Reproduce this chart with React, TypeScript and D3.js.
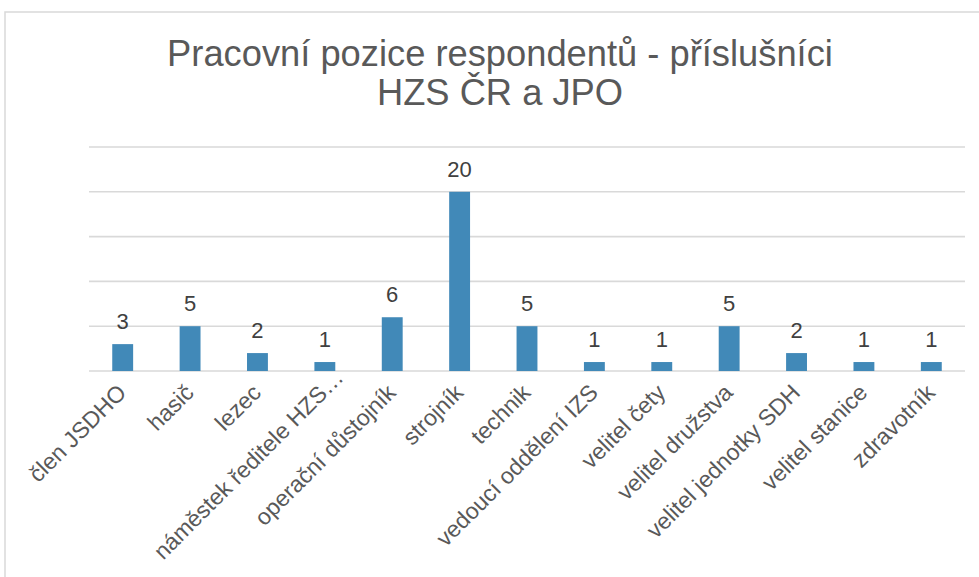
import React, { useEffect, useRef } from 'react';
import * as d3 from 'd3';

// data
const categories = [
  'člen JSDHO',
  'hasič',
  'lezec',
  'náměstek ředitele HZS…',
  'operační důstojník',
  'strojník',
  'technik',
  'vedoucí oddělení IZS',
  'velitel čety',
  'velitel družstva',
  'velitel jednotky SDH',
  'velitel stanice',
  'zdravotník',
];
const values = [3, 5, 2, 1, 6, 20, 5, 1, 1, 5, 2, 1, 1];
const gridTicks = [0, 5, 10, 15, 20, 25];
const titleLines = ['Pracovní pozice respondentů - příslušníci', 'HZS ČR a JPO'];

const width = 979;
const height = 577;
const font = 'Liberation Sans, Arial, sans-serif';

export default function App() {
  const ref = useRef<SVGSVGElement>(null);

  useEffect(() => {
    const svg = d3.select(ref.current);
    svg.selectAll('*').remove();

    const margin = { top: 147, bottom: 206, left: 89, right: 14 };

    // chart area border (runs off the right and bottom edges)
    svg.append('rect')
      .attr('x', 5).attr('y', 12)
      .attr('width', 1000).attr('height', 600)
      .attr('fill', 'white')
      .attr('stroke', '#d9d9d9')
      .attr('stroke-width', 1.5);

    // title
    svg.append('g')
      .selectAll('text')
      .data(titleLines)
      .join('text')
      .attr('x', 500)
      .attr('y', (d, i) => 66 + i * 39)
      .attr('text-anchor', 'middle')
      .attr('font-family', font)
      .attr('font-size', 36.3)
      .attr('fill', '#595959')
      .text(d => d);

    const x = d3.scaleBand<string>()
      .domain(categories)
      .range([margin.left, width - margin.right])
      .paddingInner(0.69)
      .paddingOuter(0.345);

    const y = d3.scaleLinear()
      .domain([0, 25])
      .range([height - margin.bottom, margin.top]);

    // gridlines
    svg.append('g')
      .selectAll('line')
      .data(gridTicks)
      .join('line')
      .attr('x1', margin.left)
      .attr('x2', width - margin.right)
      .attr('y1', d => y(d))
      .attr('y2', d => y(d))
      .attr('stroke', '#d9d9d9')
      .attr('stroke-width', 1.6);

    // bars
    svg.append('g')
      .selectAll('rect')
      .data(values)
      .join('rect')
      .attr('x', (d, i) => x(categories[i])!)
      .attr('y', d => y(d))
      .attr('width', x.bandwidth())
      .attr('height', d => y(0) - y(d))
      .attr('fill', '#4189b8');

    // value labels
    svg.append('g')
      .selectAll('text')
      .data(values)
      .join('text')
      .attr('x', (d, i) => x(categories[i])! + x.bandwidth() / 2)
      .attr('y', d => y(d) - 15)
      .attr('text-anchor', 'middle')
      .attr('font-family', font)
      .attr('font-size', 22)
      .attr('fill', '#404040')
      .text(d => d);

    // category labels, rotated; a truncated label's ellipsis hangs past the tick
    svg.append('g')
      .selectAll('text')
      .data(categories)
      .join('text')
      .attr('transform', d => {
        const cx = x(d)! + x.bandwidth() / 2;
        const shift = d.endsWith('…') ? 15 : 0;
        return `translate(${cx + 5 + shift},${y(0) + 23 - shift}) rotate(-45)`;
      })
      .attr('text-anchor', 'end')
      .attr('font-family', font)
      .attr('font-size', 23)
      .attr('fill', '#595959')
      .text(d => d);
  }, []);

  return (
    <svg
      ref={ref}
      width={width}
      height={height}
      style={{ position: 'absolute', left: 0, top: 0, background: 'white' }}
    />
  );
}
